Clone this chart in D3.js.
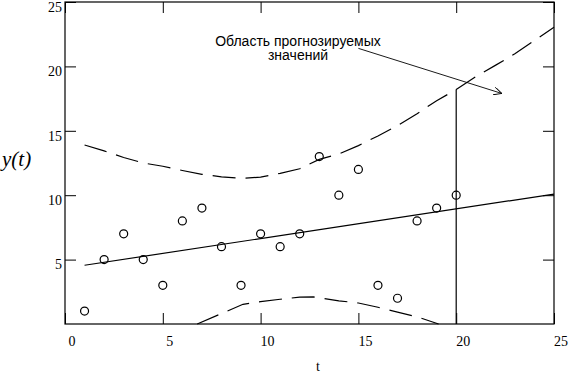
<!DOCTYPE html>
<html>
<head>
<meta charset="utf-8">
<script src="https://cdn.jsdelivr.net/npm/d3@7"></script>
<style>
body { margin: 0; background: #fff; }
svg { display: block; }
.tick text { font-family: 'Liberation Serif', 'Times New Roman', serif; font-size: 14px; fill: #000; }
</style>
</head>
<body>
<svg id="chart" width="571" height="374"></svg>
<script>
'use strict';

// observed values
var obsT = [1, 2, 3, 4, 5, 6, 7, 8, 9, 10, 11, 12, 13, 14, 15, 16, 17, 18, 19, 20];
var obsY = [1, 5, 7, 5, 3, 8, 9, 6, 3, 7, 6, 7, 13, 10, 12, 3, 2, 8, 9, 10];

// trend line
var trendT = [1, 25];
var trendY = [4.56, 10.09];

// upper band (dashed)
var upperT = [1, 2, 3, 4, 5, 6, 7, 8, 9, 10, 11, 12, 13, 14, 15, 16, 17, 18, 19, 20, 21, 22, 23, 24, 25];
var upperY = [13.9, 13.44, 12.93, 12.5, 12.25, 11.92, 11.62, 11.43, 11.31, 11.4, 11.7, 12.05, 12.78, 13.2, 13.85,
              14.6, 15.4, 16.33, 17.34, 18.2, 19.2, 20.08, 20.98, 22.02, 23.03];

// lower band (dashed), visible part only
var lowerT = [6.76, 9.1, 10, 11, 12, 12.7, 14, 15, 16, 17, 18, 19.1];
var lowerY = [0, 1.53, 1.73, 1.92, 2.09, 2.1, 1.8, 1.63, 1.3, 0.92, 0.56, 0];

var xTicks = [0, 5, 10, 15, 20, 25];
var yTicks = [5, 10, 15, 20, 25];
var forecastStart = 20;
var noteLines = ['Область прогнозируемых', 'значений'];
var noteArrow = [[15.0, 21.4], [22.33, 17.9]];

var mLeft = 65, mRight = 554, mTop = 2, mBottom = 324;

var x = d3.scaleLinear().domain([0, 25]).range([mLeft, mRight]);
var y = d3.scaleLinear().domain([0, 25]).range([mBottom, mTop]);

var svg = d3.select('#chart');

function zip(a, b) {
	return a.map(function(d, i) { return [d, b[i]]; });
}

var line = d3.line()
	.x(function(d) { return x(d[0]); })
	.y(function(d) { return y(d[1]); });

svg.append('defs').append('marker')
	.attr('id', 'arrow')
	.attr('viewBox', '0 0 10 10')
	.attr('refX', 10).attr('refY', 5)
	.attr('markerWidth', 8).attr('markerHeight', 8)
	.attr('markerUnits', 'userSpaceOnUse')
	.attr('orient', 'auto')
  .append('path')
	.attr('d', 'M0,0 L10,5 L0,10')
	.attr('fill', 'none')
	.attr('stroke', '#000')
	.attr('stroke-width', 1.2);

// axes: ticks point inward on all four sides
var gb = svg.append('g').attr('transform', 'translate(0,' + mBottom + ')')
	.call(d3.axisBottom(x).tickValues(xTicks).tickSize(-11).tickPadding(0));
gb.selectAll('text').attr('y', 22).attr('dy', 0).attr('dx', 6.5);

var gl = svg.append('g').attr('transform', 'translate(' + mLeft + ',0)')
	.call(d3.axisLeft(y).tickValues(yTicks).tickSize(-11).tickPadding(0));
gl.selectAll('text').attr('x', -3).attr('dy', '0.66em');

svg.append('g').attr('transform', 'translate(0,' + mTop + ')')
	.call(d3.axisTop(x).tickValues(xTicks).tickSize(-11).tickFormat(''));
svg.append('g').attr('transform', 'translate(' + mRight + ',0)')
	.call(d3.axisRight(y).tickValues(yTicks).tickSize(-11).tickFormat(''));

svg.selectAll('.domain').remove();
svg.selectAll('.tick line').attr('stroke', '#000');

svg.append('rect')
	.attr('x', mLeft).attr('y', mTop)
	.attr('width', mRight - mLeft).attr('height', mBottom - mTop)
	.attr('fill', 'none').attr('stroke', '#000').attr('stroke-width', 1.2);

// dashed bands
svg.append('path').datum(zip(upperT, upperY))
	.attr('d', line).attr('fill', 'none').attr('stroke', '#000')
	.attr('stroke-width', 1.2).attr('stroke-dasharray', '23,10');
svg.append('path').datum(zip(lowerT, lowerY))
	.attr('d', line).attr('fill', 'none').attr('stroke', '#000')
	.attr('stroke-width', 1.2).attr('stroke-dasharray', '23,10');

svg.append('path').datum(zip(trendT, trendY))
	.attr('d', line).attr('fill', 'none').attr('stroke', '#000').attr('stroke-width', 1.2);

// boundary of the forecast region
svg.append('line')
	.attr('x1', x(forecastStart)).attr('x2', x(forecastStart))
	.attr('y1', y(0)).attr('y2', y(upperY[upperT.indexOf(forecastStart)]))
	.attr('stroke', '#000').attr('stroke-width', 1.2);

svg.selectAll('circle.obs').data(zip(obsT, obsY)).enter().append('circle')
	.attr('class', 'obs')
	.attr('cx', function(d) { return x(d[0]); })
	.attr('cy', function(d) { return y(d[1]); })
	.attr('r', 4)
	.attr('fill', 'none').attr('stroke', '#000').attr('stroke-width', 1.2);

// annotation
svg.append('path').datum(noteArrow)
	.attr('d', line).attr('fill', 'none').attr('stroke', '#000').attr('stroke-width', 0.9)
	.attr('marker-end', 'url(#arrow)');

svg.append('text')
	.attr('x', 298).attr('y', 45.5)
	.attr('text-anchor', 'middle')
	.style('font-family', "'Liberation Sans', Arial, sans-serif")
	.style('font-size', '14px')
	.selectAll('tspan').data(noteLines).enter().append('tspan')
	.attr('x', 298)
	.attr('dy', function(d, i) { return i ? 14.5 : 0; })
	.text(function(d) { return d; });

// axis titles
svg.append('text')
	.attr('x', 2).attr('y', 166)
	.style('font-family', "'Liberation Serif', 'Times New Roman', serif")
	.style('font-style', 'italic')
	.style('font-size', '21px')
	.text('y(t)');

svg.append('text')
	.attr('x', 318).attr('y', 371)
	.attr('text-anchor', 'middle')
	.style('font-family', "'Liberation Serif', 'Times New Roman', serif")
	.style('font-size', '14px')
	.text('t');
</script>
</body>
</html>
